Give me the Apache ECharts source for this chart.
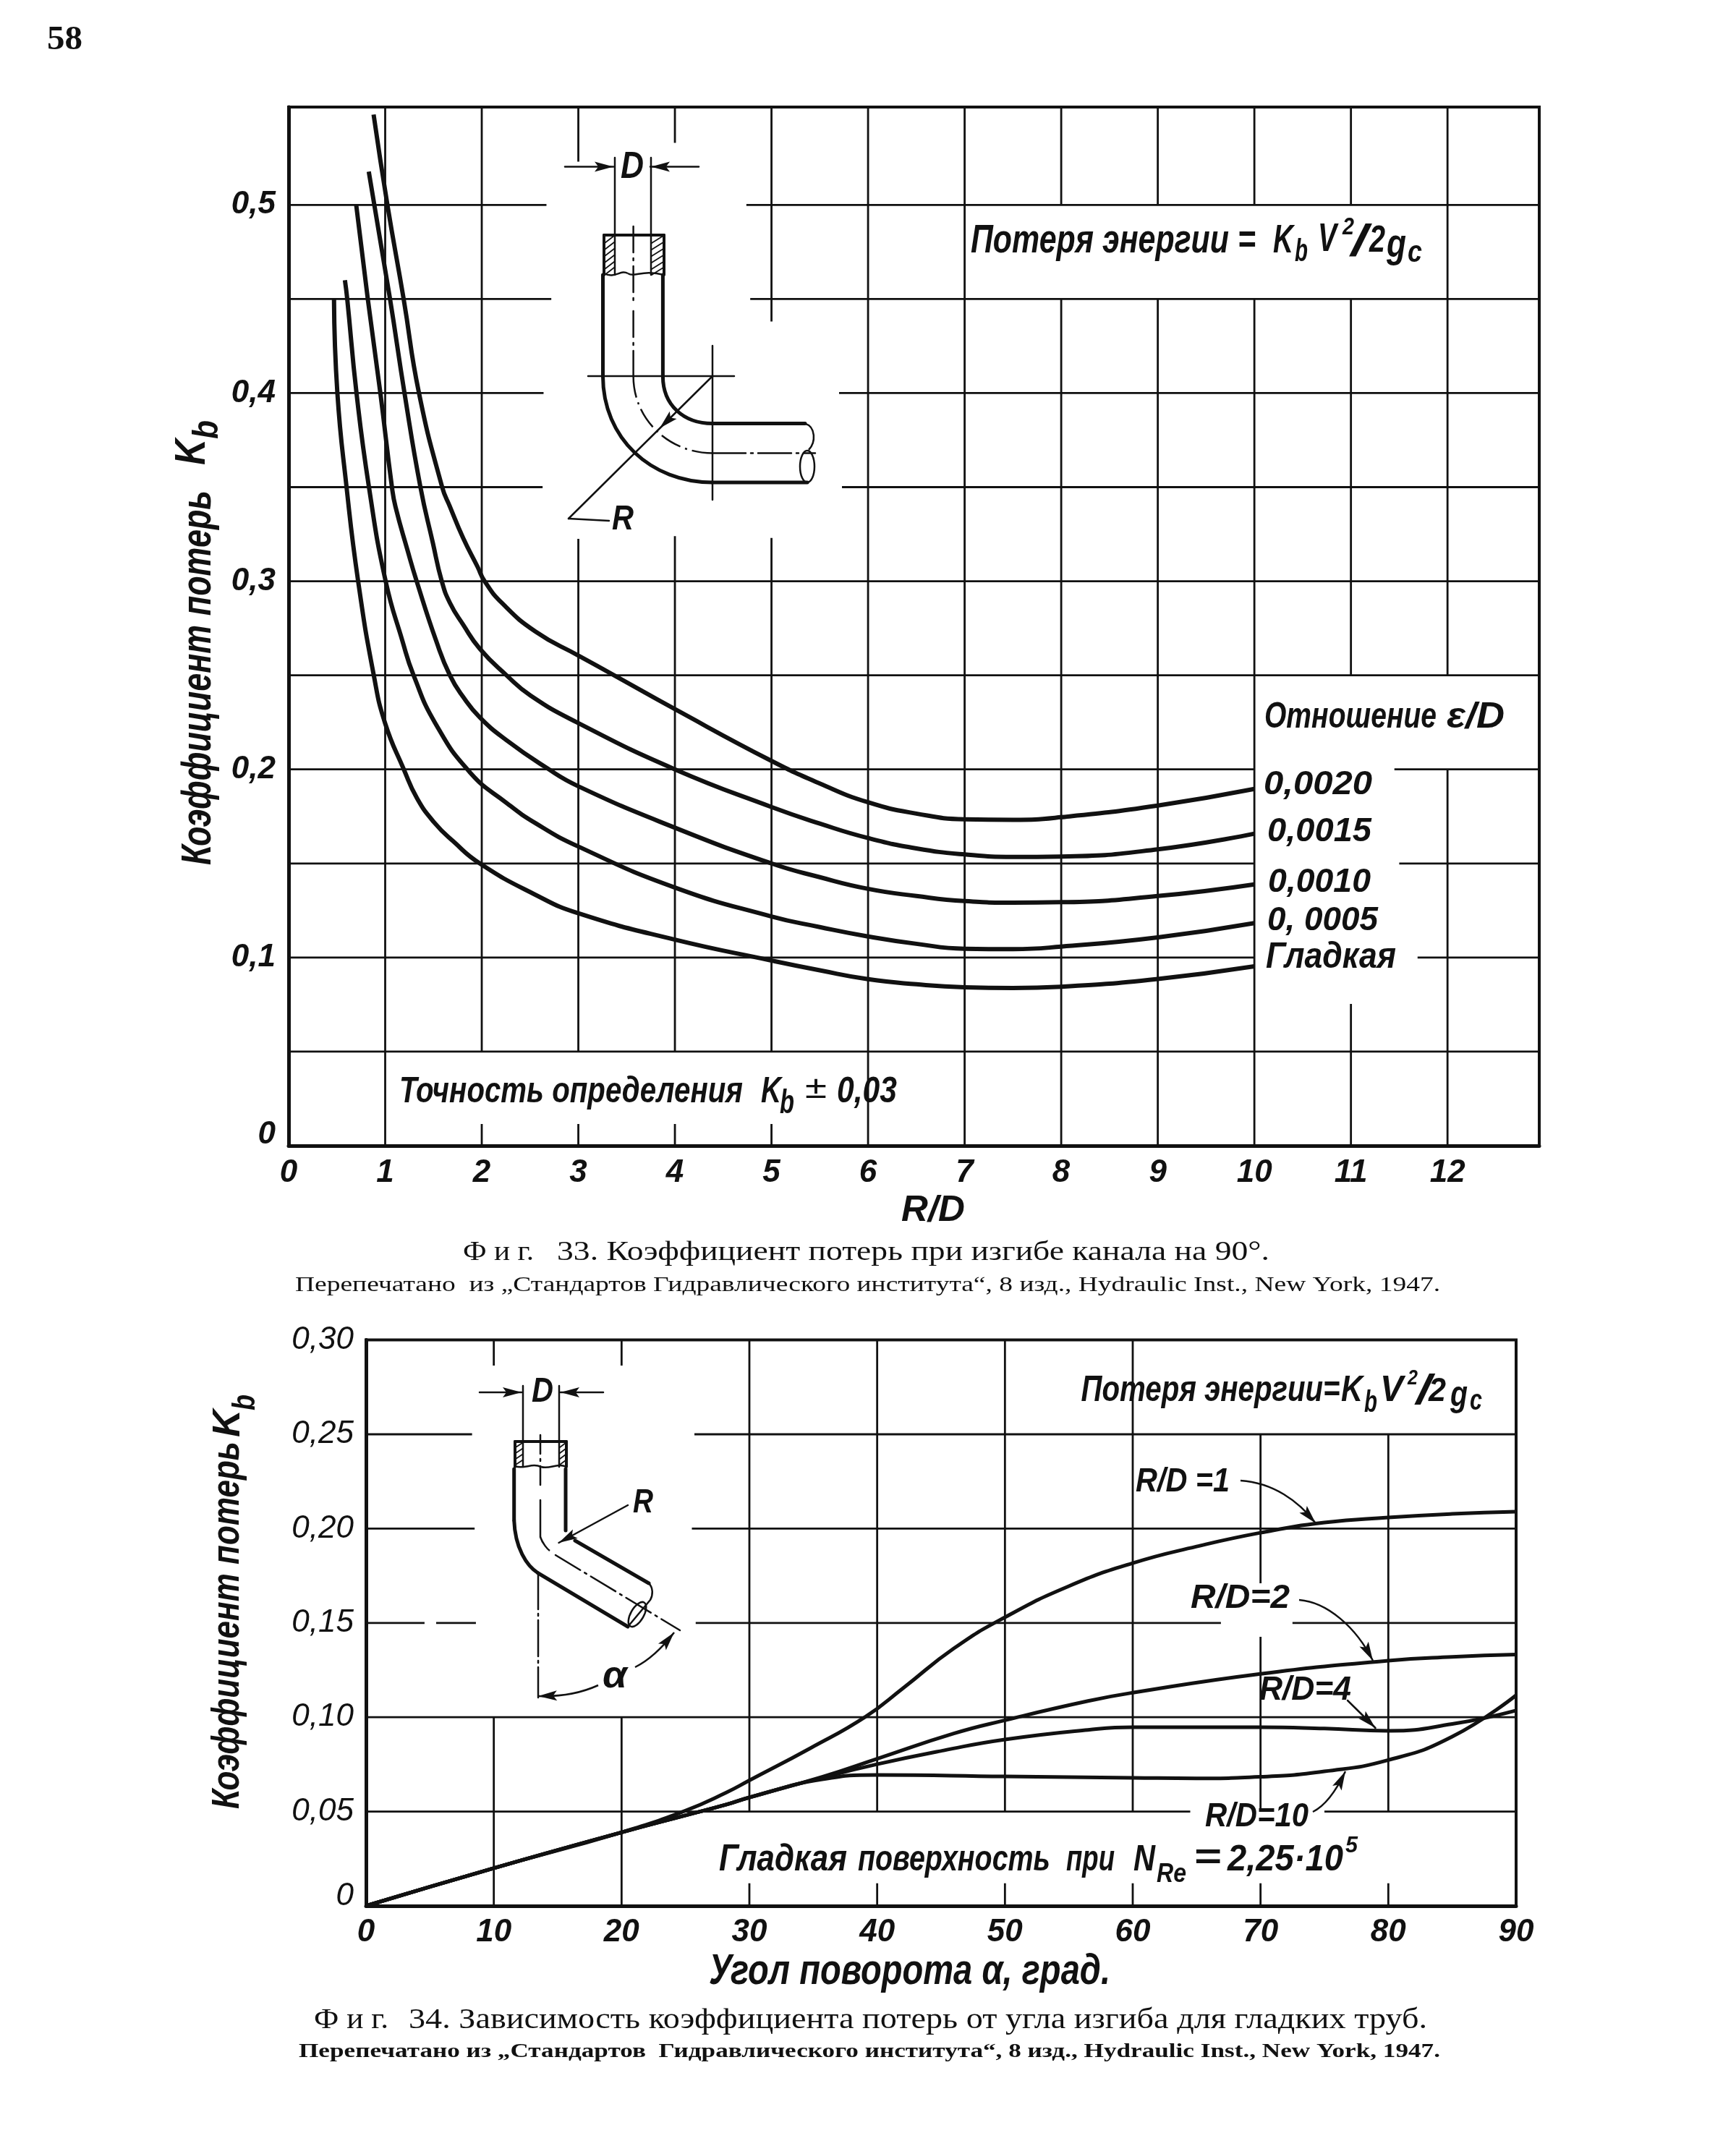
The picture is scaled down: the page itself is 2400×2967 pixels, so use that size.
<!DOCTYPE html>
<html><head><meta charset="utf-8">
<style>html,body{margin:0;padding:0;background:#fff}#c{width:2400px;height:2967px}</style>
<script src="https://cdn.jsdelivr.net/npm/echarts@6/dist/echarts.min.js"></script>
</head><body><div id="c"></div>
<script>
// ---------- Fig. 33 data: [R/D, Kb] ----------
const smoothCurve = [[0.47,0.45],[0.505,0.40],[0.6,0.35],[0.72,0.30],[0.882,0.25],[1,0.2244],[1.193,0.20],[1.33,0.1846],[1.506,0.1719],[1.706,0.1617],[1.98,0.15],[2.55,0.1335],[3,0.1235],[4,0.1095],[5,0.0984],[5.5,0.0932],[6,0.0885],[6.5,0.0858],[7,0.0842],[7.5,0.0838],[8,0.0845],[9,0.0886],[10,0.0953]];
const e0005Curve = [[0.583,0.46],[0.607,0.45],[0.703,0.40],[0.832,0.35],[1.005,0.30],[1.18,0.268],[1.294,0.25],[1.52,0.2244],[1.88,0.1983],[2.256,0.1822],[2.557,0.1714],[3,0.159],[4,0.1372],[5,0.1218],[5.5,0.1162],[6,0.1112],[6.5,0.1073],[7,0.1047],[7.5,0.1045],[8,0.1058],[9,0.1107],[10,0.1183]];
const e0010Curve = [[0.70,0.50],[0.82,0.45],[0.95,0.40],[1.07,0.35],[1.106,0.3397],[1.23,0.3167],[1.326,0.30],[1.53,0.268],[1.67,0.25],[1.806,0.2386],[1.98,0.2276],[2.256,0.2155],[2.656,0.2013],[3,0.191],[4,0.169],[5,0.15],[5.5,0.1427],[6,0.1365],[6.5,0.1327],[7,0.13],[7.5,0.1292],[8,0.1294],[9,0.1327],[10,0.1389]];
const e0015Curve = [[0.83,0.5177],[1.05,0.45],[1.2,0.40],[1.365,0.35],[1.493,0.3205],[1.586,0.30],[1.67,0.2885],[1.806,0.277],[1.98,0.2641],[2.256,0.25],[2.506,0.2392],[2.98,0.2251],[4,0.20],[5,0.18],[5.5,0.1712],[6,0.1635],[6.5,0.158],[7,0.1548],[7.5,0.1535],[8,0.1537],[9,0.1575],[10,0.1658]];
const e0020Curve = [[0.88,0.548],[1.023,0.50],[1.191,0.45],[1.35,0.40],[1.59,0.35],[1.67,0.3397],[1.806,0.3231],[1.956,0.3077],[2.03,0.30],[2.207,0.2885],[2.557,0.2732],[3,0.2605],[3.37,0.25],[4,0.232],[5,0.2045],[5.5,0.1925],[6,0.1825],[6.5,0.1765],[7,0.1735],[7.5,0.1732],[8,0.1746],[9,0.1808],[10,0.1896]];
const topGridH = [[0.05,0,12.95],[0.1,0,10],[0.1,11.69,12.95],[0.15,0,10],[0.15,11.5,12.95],[0.2,0,10],[0.2,11.45,12.95],[0.25,0,12.95],[0.3,0,12.95],[0.35,0,2.63],[0.35,5.73,12.95],[0.4,0,2.64],[0.4,5.7,12.95],[0.45,0,2.72],[0.45,4.78,12.95],[0.5,0,2.67],[0.5,4.74,12.95]];
const topGridV = [[1,0,0.552],[2,0,0.0115],[2,0.05,0.552],[3,0,0.0115],[3,0.05,0.3225],[3,0.523,0.552],[4,0,0.0115],[4,0.05,0.324],[4,0.533,0.552],[5,0,0.0115],[5,0.05,0.323],[5,0.438,0.552],[6,0,0.552],[7,0,0.552],[8,0,0.45],[8,0.5,0.552],[9,0,0.45],[9,0.5,0.552],[10,0,0.45],[10,0.5,0.552],[11,0,0.0753],[11,0.25,0.45],[11,0.5,0.552],[12,0,0.2],[12,0.25,0.552]];

// ---------- Fig. 34 data: [angle, Kb] ----------
const rd1Curve = [[0,0],[10,0.02],[20,0.039],[25,0.0505],[28.2,0.0601],[30,0.0665],[34.8,0.0837],[39.1,0.1003],[42.1,0.1158],[46,0.1365],[50,0.153],[55,0.1695],[60,0.1817],[65,0.1905],[70,0.1978],[75,0.2032],[80,0.2059],[85,0.2078],[90,0.209]];
const rd2Curve = [[0,0],[10,0.02],[20,0.039],[25,0.048],[28.2,0.0537],[30,0.0575],[35.7,0.0684],[40,0.078],[46,0.0914],[50,0.0984],[56.5,0.1086],[60,0.113],[70,0.123],[80,0.13],[85,0.132],[90,0.1332]];
const rd4Curve = [[0,0],[10,0.02],[20,0.039],[25,0.048],[28.2,0.0537],[30,0.0575],[35.7,0.068],[40,0.0751],[45.2,0.0824],[50,0.0882],[56.5,0.0933],[60,0.0947],[70,0.0947],[75,0.094],[80,0.0928],[85,0.0964],[90,0.1036]];
const rd10Curve = [[0,0],[10,0.02],[20,0.039],[25,0.048],[28.2,0.0537],[30,0.0575],[35.7,0.0671],[40,0.0694],[50,0.0686],[60,0.0679],[65,0.0676],[70,0.0684],[75,0.0713],[80,0.0773],[85,0.0897],[90,0.1117]];
const botGridH = [[0.05,0,64.5],[0.05,75,90],[0.1,0,90],[0.15,0,4.58],[0.15,5.49,8.6],[0.15,25.8,66.9],[0.15,72.5,90],[0.2,0,8.5],[0.2,25.5,90],[0.25,0,8.3],[0.25,25.7,90]];
const botGridV = [[10,0,0.1],[10,0.2864,0.3],[20,0,0.1],[20,0.2864,0.3],[30,0,0.012],[30,0.05,0.3],[40,0,0.012],[40,0.05,0.3],[50,0,0.012],[50,0.05,0.3],[60,0,0.012],[60,0.05,0.3],[70,0,0.012],[70,0.05,0.1426],[70,0.171,0.25],[80,0,0.012],[80,0.05,0.25]];

const INK = '#111';
const NARROW = '"Liberation Sans Narrow","Liberation Sans",sans-serif';
const SANS = '"Liberation Sans",sans-serif';
const SERIF = '"Liberation Serif",serif';
const measureCtx = document.createElement('canvas').getContext('2d');
const g = [];
function T(text,x,y,o){ o=o||{};
  const font=(o.italic===false?'':'italic ')+(o.bold?'bold ':'')+(o.size||46)+'px '+(o.fam||NARROW);
  measureCtx.font=font;
  const sx=o.w?o.w/measureCtx.measureText(text).width:1;
  g.push({type:'text',x:x,y:y,scaleX:sx,rotation:o.rot?Math.PI/2:0,z:20,silent:true,style:{text:text,font:font,fill:INK,textAlign:'left',textVerticalAlign:'middle'}});
}
function L(x1,y1,x2,y2,w,dash){g.push({type:'line',z:20,silent:true,shape:{x1,y1,x2,y2},style:{stroke:INK,lineWidth:w||2.5,lineDash:dash||null,lineCap:'round'}});}
function C(x1,y1,cx1,cy1,cx2,cy2,x2,y2,w,dash){g.push({type:'bezierCurve',z:20,silent:true,shape:{x1,y1,cpx1:cx1,cpy1:cy1,cpx2:cx2,cpy2:cy2,x2,y2},style:{stroke:INK,fill:null,lineWidth:w||2.5,lineDash:dash||null}});}
function head(xb,yb,x,y,len,wid){ const a=Math.atan2(y-yb,x-xb),l=len||22,h=wid||6,ca=Math.cos(a),sa=Math.sin(a);
  g.push({type:'polygon',z:20,silent:true,shape:{points:[[x,y],[x-l*ca-h*sa,y-l*sa+h*ca],[x-l*ca*0.8,y-l*sa*0.8],[x-l*ca+h*sa,y-l*sa-h*ca]]},style:{fill:INK}});}
function E(cx,cy,rx,ry,w,rot){g.push({type:'ellipse',z:20,silent:true,x:cx,y:cy,rotation:rot||0,shape:{cx:0,cy:0,rx,ry},style:{stroke:INK,fill:null,lineWidth:w||2.5}});}

// ---- page ----
T('58',65,56,{fam:SERIF,italic:false,bold:true,size:46,w:49});

// ---- Fig.33 inset ----
L(781,230.5,848,230.5,2.5);head(800,230.5,848,230.5,26,7);
L(966,230.5,899,230.5,2.5);head(948,230.5,900,230.5,26,7);
L(850,218,850,325,2.5);L(900,218,900,325,2.5);
T('D',858,232,{size:52,w:32,bold:true});
L(835,325,918,325,4);L(835,325,835,380,4);L(918,325,918,380,4);L(850,325,850,380,2.5);L(900,325,900,380,2.5);
[332,341,350,359,368,376].forEach(y=>{L(836,y+4,849,y-6,1.8);L(901,y+4,917,y-6,1.8);});
C(835,378,850,386,858,372,868,378,2.5);C(868,378,878,384,888,372,918,380,2.5);
L(875.6,313,875.6,420,2.5,[36,8,3,8]);
L(875.6,430,875.6,520,2.5,[36,8,3,8]);
L(833.5,380,833.5,520,5);C(833.5,520,833.5,606,900,667,985,667,5);L(985,667,1116,667,5);
L(916.4,380,916.4,520,5);C(916.4,520,916.4,560,945,585.6,985,585.6,5);L(985,585.6,1113,585.6,5);
C(1113,585.6,1128,590,1128,612,1118,622,2.5);
E(1116,645,10,22,2.5);
C(875.6,520,875.6,580,925,626.5,985,626.5,2.5,[30,7,3,7]);L(985,626.5,1127,626.5,2.5,[46,7,3,7]);
L(813,520,1015,520,2.5);L(985,478,985,691,2.5);
L(983,522,786,717,2.5);L(786,717,842,720,2.5);head(945,560,912,592,26,7);
T('R',846,719,{size:48,w:30,bold:true});

// ---- Fig.33 text ----
T('Коэффициент потерь',275,1196,{rot:true,size:58,bold:true,w:518});
T('K',266,643,{rot:true,size:60,bold:true,w:36});T('b',287,607,{rot:true,size:50,bold:true,w:26});
T('R/D',1246,1674,{size:50,bold:true,w:88});
T('Потеря энергии =',1342,334,{size:56,bold:true,w:394});
T('K',1760,334,{size:56,bold:true,w:28});T('b',1790,349,{size:44,bold:true,w:18});
T('V',1822,332,{size:56,bold:true,w:26});T('2',1856,315,{size:34,bold:true,w:16});T('/',1868,336,{size:62,bold:true,w:22});
T('2',1893,334,{size:52,bold:true,w:22});T('g',1917,340,{size:56,bold:true,w:27});T('c',1946,350,{size:42,bold:true,w:20});
T('Точность определения',552,1510,{size:50,bold:true,w:475});
T('K',1052,1510,{size:50,bold:true,w:28});T('b',1078,1526,{size:46,bold:true,w:20});
T('±',1113,1506,{size:44,italic:false,w:30});T('0,03',1157,1510,{size:50,w:83,bold:true});
T('Отношение',1748,992,{size:50,bold:true,w:238});T('ε/D',2000,992,{size:50,bold:true,w:80});
T('0,0020',1747,1085,{size:46,bold:true,w:150});T('0,0015',1752,1150,{size:46,bold:true,w:144});T('0,0010',1753,1220,{size:46,bold:true,w:142});
T('0, 0005',1752,1273,{size:46,bold:true,w:153});T('Гладкая',1750,1324,{size:50,bold:true,w:180});
T('Ф и г.',640,1732,{fam:SERIF,italic:false,size:38,w:98});
T('33. Коэффициент потерь при изгибе канала на 90°.',770,1732,{fam:SERIF,italic:false,size:38,w:985});
T('Перепечатано  из „Стандартов Гидравлического института“, 8 изд., Hydraulic Inst., New York, 1947.',408,1777,{fam:SERIF,italic:false,size:30,w:1583});

// ---- Fig.34 inset ----
L(663,1925,721,1925,2.5);head(690,1925,721,1925,26,7);
L(834,1925,775,1925,2.5);head(805,1925,775,1925,26,7);
L(723,1916,723,1993,2.5);L(773,1916,773,1993,2.5);
T('D',735,1925,{size:48,bold:true,w:30});
L(712,1993,783,1993,4);L(712,1993,712,2028,4);L(783,1993,783,2028,4);L(723,1993,723,2028,2.5);L(773,1993,773,2028,2.5);
[1998,2006,2014,2022].forEach(y=>{L(713,y+3,722,y-3,1.8);L(774,y+3,782,y-3,1.8);});
C(712,2027,725,2032,735,2022,748,2028,2.5);C(748,2028,760,2032,770,2022,783,2028,2.5);
L(747,1984,747,2060,2.5,[26,7,3,7]);
L(710.7,2031,710.7,2101.6,5);C(710.7,2101.6,712,2140,728,2165,744,2175,5);L(744,2175,868,2249,5);
L(782,2031,782,2116,5);L(795,2130,897,2189,5);C(897,2189,903,2195,903,2205,899,2212,2.5);
E(881,2232,9,19,2.5,-0.52);
L(899,2212,868,2249,2.5);
L(747,2074,747,2125,2.5);C(747,2125,750,2134,757,2142,760,2144,2.5);L(768,2150,940,2254,2.5,[40,7,3,7]);
L(744,2175,744,2347,2.5,[50,6,3,6]);
C(744,2345,775,2346,805,2340,827,2330,2.5);head(775,2344,744,2345,26,7);
T('α',833,2319,{size:52,w:34,bold:true});
C(878,2305,898,2295,918,2275,932,2257,2.5);head(912,2281,932,2257,26,7);
L(868,2081,772.5,2133,2.5);head(800,2118,772.5,2133,26,7);
T('R',875,2078,{size:46,w:28,bold:true});

// ---- Fig.34 text ----
T('Коэффициент потерь',315,2501,{rot:true,size:54,bold:true,w:508});
T('K',316,1987,{rot:true,size:54,bold:true,w:38});T('b',340,1950,{rot:true,size:44,bold:true,w:22});
T('Угол поворота α, град.',980,2726,{size:60,bold:true,w:555});
T('Потеря энергии=',1494.6,1923,{size:50,bold:true,w:358});
T('K',1854,1923,{size:50,bold:true,w:30});T('b',1886,1940,{size:42,bold:true,w:18});
T('V',1908,1923,{size:50,bold:true,w:32});T('2',1946,1906,{size:30,bold:true,w:14});T('/',1958,1925,{size:58,bold:true,w:20});
T('2',1975,1924,{size:46,bold:true,w:24});T('g',2005,1930,{size:50,bold:true,w:24});T('c',2032,1938,{size:40,bold:true,w:17});
T('R/D =1',1570,2049,{size:46,bold:true,w:130});T('R/D=2',1646,2210,{size:46,bold:true,w:137});T('R/D=4',1741,2337,{size:46,bold:true,w:127});T('R/D=10',1666,2512,{size:46,bold:true,w:143});
T('Гладкая',994,2572,{size:52,bold:true,w:177});T('поверхность',1186,2572,{size:50,bold:true,w:266});T('при',1474,2572,{size:50,bold:true,w:67});
T('N',1567,2572,{size:50,bold:true,w:30});T('Re',1599,2592,{size:36,bold:true,w:41});T('=',1650,2570,{size:50,bold:true,w:38});
T('2,25·10',1697,2572,{size:50,bold:true,w:160});T('5',1860,2552,{size:32,bold:true,w:17});
C(1715,2047,1760,2050,1795,2075,1819,2106,2.5);head(1800,2085,1819,2106,26,7);
C(1796,2212,1835,2215,1875,2250,1898,2296,2.5);head(1884,2270,1898,2296,26,7);
L(1863,2351,1901.5,2389,2.5);head(1880,2368,1901.5,2389,26,7);
C(1815,2505,1835,2495,1850,2470,1860,2449,2.5);head(1849,2471,1860,2449,26,7);
T('Ф и г.',434,2793,{fam:SERIF,italic:false,size:40,w:103});
T('34. Зависимость коэффициента потерь от угла изгиба для гладких труб.',565,2793,{fam:SERIF,italic:false,size:40,w:1408});
T('Перепечатано из „Стандартов  Гидравлического института“, 8 изд., Hydraulic Inst., New York, 1947.',413,2837,{fam:SERIF,italic:false,bold:true,size:28,w:1578});

// ---- series helpers ----
function segs(h,v){const d=[];h.forEach(s=>{d.push([s[1],s[0]],[s[2],s[0]],['-','-']);});v.forEach(s=>{d.push([s[0],s[1]],[s[0],s[2]],['-','-']);});return d;}
function gridSeries(name,i,h,v){return {name,type:'line',xAxisIndex:i,yAxisIndex:i,data:segs(h,v),showSymbol:false,symbol:'none',silent:true,connectNulls:false,lineStyle:{color:INK,width:2.8,cap:'butt'},z:1};}
function curve(name,i,data,w){return {name,type:'line',xAxisIndex:i,yAxisIndex:i,data,smooth:0.5,symbol:'none',silent:true,lineStyle:{color:INK,width:w},z:5};}
function yFmt2(v){return v===0?'{z|0}':v.toFixed(2).replace('.',',');}

const chart = echarts.init(document.getElementById('c'),null,{renderer:'canvas'});
chart.setOption({
  animation:false, backgroundColor:'#fff',
  grid:[
    {left:399,top:148,width:1729,height:1436,show:true,borderColor:INK,borderWidth:4,containLabel:false},
    {left:506,top:1852.6,width:1590,height:782.4,show:true,borderColor:INK,borderWidth:4,containLabel:false}
  ],
  xAxis:[
    {type:'value',gridIndex:0,min:0,max:12.95,interval:1,splitLine:{show:false},axisTick:{show:false},
     axisLine:{show:true,onZero:false,lineStyle:{color:INK,width:5}},
     axisLabel:{margin:16,showMaxLabel:false,fontFamily:NARROW,fontStyle:'italic',fontWeight:'bold',fontSize:44,color:INK}},
    {type:'value',gridIndex:1,min:0,max:90,interval:10,splitLine:{show:false},axisTick:{show:false},
     axisLine:{show:true,onZero:false,lineStyle:{color:INK,width:5}},
     axisLabel:{margin:15,fontFamily:SANS,fontStyle:'italic',fontWeight:'bold',fontSize:44,color:INK}}
  ],
  yAxis:[
    {type:'value',gridIndex:0,min:0,max:0.552,interval:0.05,splitLine:{show:false},axisTick:{show:false},
     axisLine:{show:true,onZero:false,lineStyle:{color:INK,width:5}},
     axisLabel:{margin:18,showMaxLabel:false,fontFamily:NARROW,fontStyle:'italic',fontWeight:'bold',fontSize:44,color:INK,
       rich:{z:{fontFamily:NARROW,fontStyle:'italic',fontWeight:'bold',fontSize:44,color:INK,padding:[0,0,30,0]}},
       formatter:v=>{const t=Math.round(v*100);return t===0?'{z|0}':(t%10===0?(t/100).toFixed(1).replace('.',','):'');}}},
    {type:'value',gridIndex:1,min:0,max:0.3,interval:0.05,splitLine:{show:false},axisTick:{show:false},
     axisLine:{show:true,onZero:false,lineStyle:{color:INK,width:5}},
     axisLabel:{margin:17,fontFamily:SANS,fontStyle:'italic',fontSize:44,color:INK,
       rich:{z:{fontFamily:SANS,fontStyle:'italic',fontSize:44,color:INK,padding:[0,0,26,0]}},formatter:yFmt2}}
  ],
  series:[
    gridSeries('Сетка 33',0,topGridH,topGridV),
    curve('Гладкая',0,smoothCurve,6),curve('0,0005',0,e0005Curve,6),curve('0,0010',0,e0010Curve,6),curve('0,0015',0,e0015Curve,6),curve('0,0020',0,e0020Curve,6),
    gridSeries('Сетка 34',1,botGridH,botGridV),
    curve('R/D=1',1,rd1Curve,5),curve('R/D=2',1,rd2Curve,5),curve('R/D=4',1,rd4Curve,5),curve('R/D=10',1,rd10Curve,5)
  ],
  graphic:{elements:g}
});
</script></body></html>
